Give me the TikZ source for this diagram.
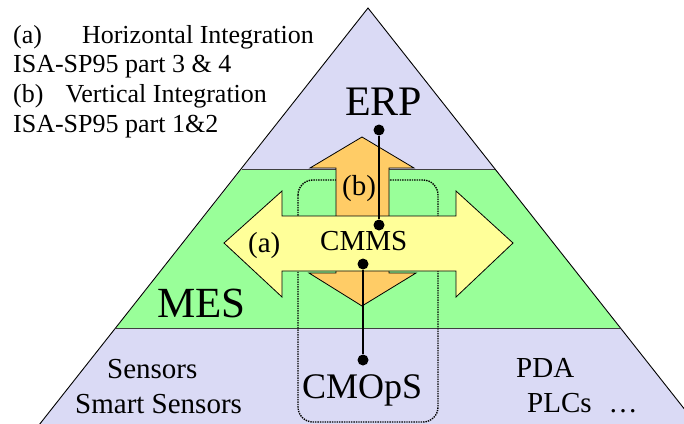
\documentclass[tikz,border=0pt]{standalone}
\usepackage{fontspec}
\setmainfont{Liberation Serif}
\usepackage{xcolor}

\definecolor{levelblue}{RGB}{218,218,245}
\definecolor{mesgreen}{RGB}{153,255,153}
\definecolor{hyellow}{RGB}{255,255,153}
\definecolor{vorange}{RGB}{255,204,102}

\tikzset{
  dot/.style={circle,fill=black,inner sep=0pt,minimum size=11pt},
  link/.style={line width=2.6pt},
  lbl/.style={anchor=base west,inner sep=0pt,font=\fontsize{#1}{#1}\selectfont},
  arrowbody/.style={draw=black,line width=0.8pt},
}

\begin{document}
\begin{tikzpicture}[x=1pt,y=-1pt]
\def\W{684}
\def\H{423}
\def\ax{368}
\def\ay{8}
\def\yt{169}
\def\yb{328}
  \useasboundingbox (0,0) rectangle (\W,\H);
  \clip (0,0) rectangle (\W,\H);

  % the three levels
  \fill[levelblue] (\ax,\ay) -- (495,\yt) -- (242,\yt) -- cycle;
  \fill[mesgreen] (242,\yt) -- (495,\yt) -- (620,\yb) -- (116,\yb) -- cycle;
  \fill[levelblue] (116,\yb) -- (620,\yb) -- (697,425) -- (39,425) -- cycle;
  \draw[black!75,line width=0.9pt] (242,\yt) -- (495,\yt);
  \draw[black!75,line width=0.9pt] (116,\yb) -- (620,\yb);
  \draw[line width=0.9pt] (39,425) -- (\ax,\ay) -- (697,425);

  % CMMS / CMOpS box
  \draw[densely dotted,line width=1.4pt,rounded corners=15pt] (298,180) rectangle (438,422);

  % (b) vertical integration
  \fill[vorange,arrowbody] (362,137) -- (414,168) -- (389,168) -- (389,273)
    -- (416,273) -- (362,306) -- (309,273) -- (336,273) -- (336,168)
    -- (310,168) -- cycle;
  % (a) horizontal integration
  \fill[hyellow,arrowbody] (224,243) -- (282,191) -- (282,216) -- (456,216)
    -- (456,191) -- (513,243) -- (456,297) -- (456,271) -- (282,271)
    -- (282,297) -- cycle;

  % links
  \node[dot] (erptop) at (379,130) {};
  \node[dot] (cmmsup) at (379,225) {};
  \node[dot] (cmmsdown) at (363,264) {};
  \node[dot] (cmopstop) at (363,360) {};
  \draw[link] (erptop) -- (cmmsup);
  \draw[link] (cmmsdown) -- (cmopstop);

  % labels
  \node[lbl=42] (erp) at (345,115) {ERP};
  \node[lbl=43] (mes) at (157,317) {MES};
  \node[lbl=29] (cmms) at (320,250) {CMMS};
  \node[lbl=29] (hlabel) at (248,252) {(a)};
  \node[lbl=29] (vlabel) at (342,195) {(b)};
  \node[lbl=36] (cmops) at (302,398) {CMOpS};
  \node[lbl=29] (sensors) at (107,378) {Sensors};
  \node[lbl=29] (smart) at (75,413) {Smart Sensors};
  \node[lbl=29] (pda) at (516,377) {PDA};
  \node[lbl=29] (plcs) at (527,412) {PLCs\hspace{17pt}…};

  % legend
  \node[lbl=26] (legA) at (13,43) {(a)\hspace{40pt}Horizontal Integration};
  \node[lbl=26] (legAsp) at (13,72) {ISA-SP95 part 3 \& 4};
  \node[lbl=26] (legB) at (13,102) {(b)\hspace{22pt}Vertical Integration};
  \node[lbl=26] (legBsp) at (13,132) {ISA-SP95 part 1\&2};
\end{tikzpicture}
\end{document}
